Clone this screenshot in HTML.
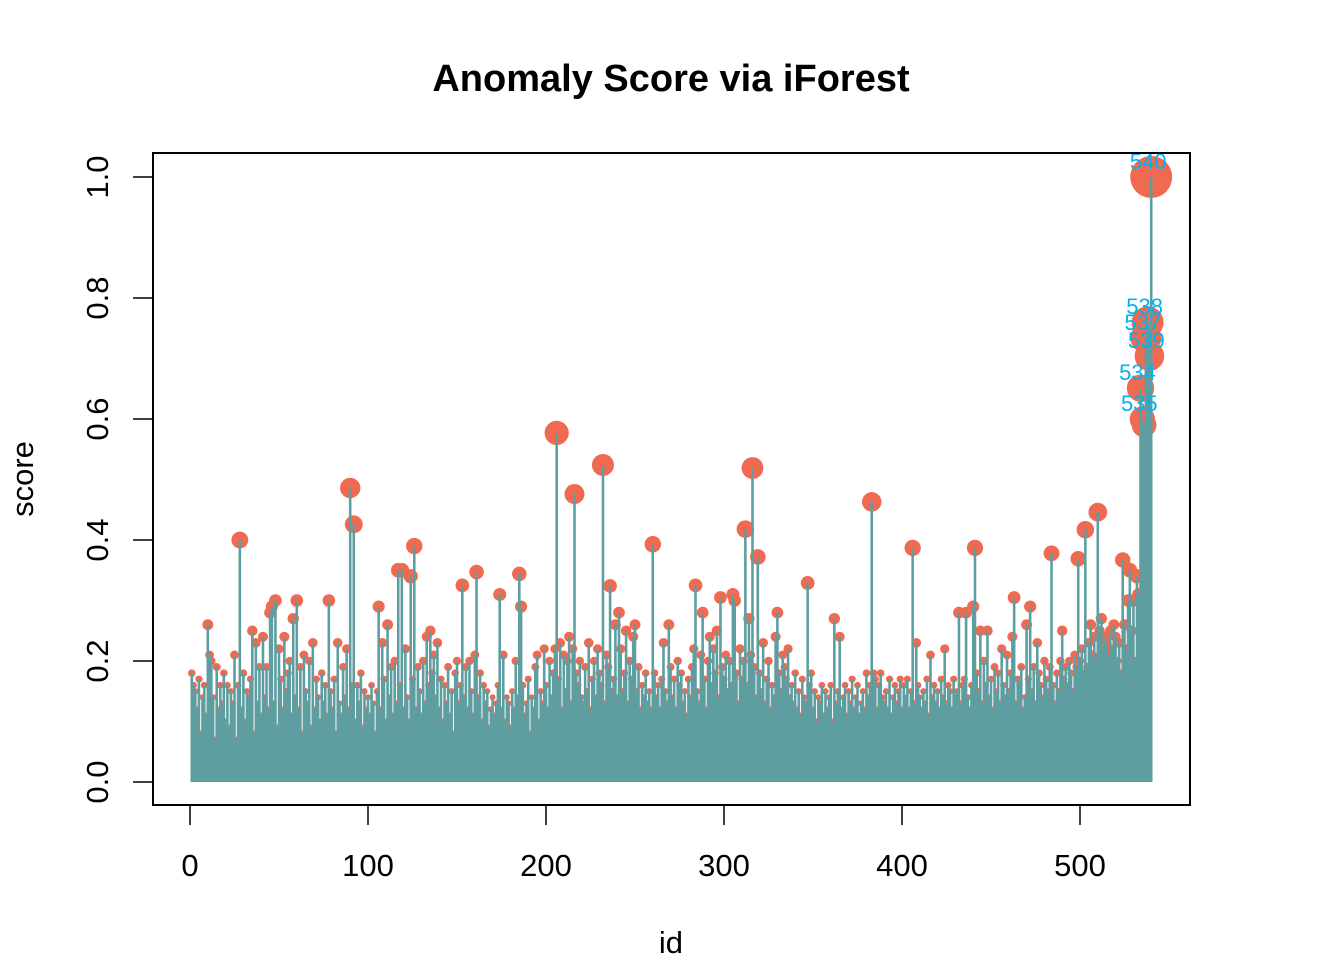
<!DOCTYPE html>
<html><head><meta charset="utf-8"><style>
html,body{margin:0;padding:0;background:#fff;}
svg{display:block;font-family:"Liberation Sans",Arial,sans-serif;}
</style></head><body>
<svg id="chart" width="1344" height="960" viewBox="0 0 1344 960">
<text x="671" y="91" text-anchor="middle" font-size="38" font-weight="bold">Anomaly Score via iForest</text>
<g id="marks"></g>
<rect x="153" y="153" width="1037" height="652" fill="none" stroke="#000" stroke-width="2"/>
<g id="axes"></g>
<text x="671" y="953" text-anchor="middle" font-size="31">id</text>
<text x="33" y="479" text-anchor="middle" font-size="31" transform="rotate(-90 33 479)">score</text>
</svg>
<script>
const scores = [
.18,.16,.15,.12,.17,.08,.14,.16,.11,.26,.21,.20,.14,.07,.19,.12,.16,.13,.18,.10,
.16,.09,.15,.13,.21,.07,.16,.40,.12,.18,.10,.15,.14,.17,.25,.08,.23,.13,.19,.11,
.24,.14,.19,.12,.28,.29,.13,.30,.09,.22,.17,.12,.24,.15,.18,.20,.11,.27,.14,.30,
.12,.19,.08,.21,.15,.13,.20,.09,.23,.12,.17,.14,.10,.18,.13,.16,.11,.30,.15,.12,
.17,.08,.23,.13,.11,.19,.14,.22,.12,.486,.16,.426,.10,.16,.13,.18,.09,.15,.12,.14,
.11,.16,.13,.08,.15,.29,.12,.23,.17,.10,.26,.14,.19,.11,.20,.13,.35,.16,.35,.12,
.22,.14,.10,.34,.17,.39,.12,.19,.15,.11,.20,.13,.24,.16,.25,.18,.21,.14,.23,.12,
.17,.10,.16,.13,.19,.11,.15,.08,.18,.20,.13,.16,.325,.14,.19,.12,.20,.15,.11,.21,
.347,.14,.18,.10,.16,.13,.15,.09,.12,.14,.11,.13,.16,.31,.12,.21,.10,.14,.13,.09,
.15,.12,.20,.14,.344,.29,.16,.11,.13,.17,.08,.14,.12,.19,.21,.10,.15,.13,.22,.16,
.12,.20,.14,.18,.22,.577,.17,.23,.12,.21,.15,.20,.24,.13,.22,.476,.18,.16,.20,.14,
.13,.19,.15,.23,.12,.17,.20,.14,.22,.18,.16,.524,.13,.21,.19,.324,.15,.17,.26,.14,
.28,.22,.15,.18,.25,.13,.20,.17,.24,.26,.15,.19,.12,.16,.14,.18,.13,.15,.12,.393,
.18,.14,.16,.12,.17,.23,.15,.13,.26,.19,.14,.17,.12,.20,.16,.18,.13,.15,.11,.17,
.14,.19,.22,.325,.15,.13,.21,.28,.17,.12,.20,.24,.16,.22,.18,.25,.14,.305,.19,.17,
.21,.15,.20,.16,.31,.30,.18,.13,.22,.17,.20,.418,.16,.27,.21,.519,.19,.14,.372,.18,
.15,.23,.13,.17,.20,.12,.16,.14,.24,.28,.18,.15,.21,.19,.17,.22,.14,.16,.13,.18,
.12,.15,.11,.17,.14,.13,.329,.16,.18,.12,.15,.10,.14,.13,.16,.11,.15,.12,.14,.16,
.10,.27,.13,.15,.24,.12,.14,.16,.11,.15,.13,.17,.12,.14,.16,.11,.13,.15,.12,.18,
.14,.16,.463,.18,.17,.12,.16,.18,.14,.13,.15,.12,.17,.11,.14,.16,.13,.15,.17,.12,
.16,.14,.17,.12,.15,.387,.13,.23,.16,.14,.12,.15,.13,.17,.11,.21,.14,.16,.13,.15,
.12,.17,.14,.22,.13,.16,.15,.12,.17,.14,.15,.28,.13,.16,.17,.28,.14,.12,.16,.29,
.387,.18,.15,.25,.13,.20,.16,.25,.14,.17,.12,.19,.15,.18,.13,.22,.16,.14,.21,.15,
.18,.24,.305,.13,.17,.16,.19,.12,.14,.26,.17,.29,.15,.19,.13,.23,.18,.16,.14,.20,
.17,.15,.19,.378,.16,.13,.18,.15,.20,.25,.17,.19,.16,.20,.18,.15,.21,.19,.369,.20,
.22,.18,.417,.19,.23,.26,.21,.24,.20,.446,.25,.27,.22,.24,.23,.21,.25,.22,.26,.24,
.20,.23,.18,.367,.26,.22,.30,.35,.25,.30,.20,.34,.31,.651,.60,.59,.734,.76,.704,1.0
];
const labeledIds = [534, 535, 537, 538, 539, 540];
const xTicks = [0, 100, 200, 300, 400, 500];
const yTicks = [0.0, 0.2, 0.4, 0.6, 0.8, 1.0];
const yTickLabels = ["0.0", "0.2", "0.4", "0.6", "0.8", "1.0"];

const NS = "http://www.w3.org/2000/svg";
function xs(id){ return 190 + id * 1.78; }
function ys(v){ return 782 - v * 605; }
function mk(tag, attrs, parent){
  const e = document.createElementNS(NS, tag);
  for (const k in attrs) e.setAttribute(k, attrs[k]);
  parent.appendChild(e);
  return e;
}
const marks = document.getElementById("marks");
const pts = mk("g", {}, marks);


const stems = mk("g", {}, marks);


const labs = mk("g", {}, marks);



scores.forEach((s, i) => {
  const id = i + 1;
  const c = mk("circle", {cx: xs(id), cy: ys(s), r: Math.max(3, 21 * s), fill: "#EF6A51"}, pts);
  
  
});
scores.forEach((s, i) => {
  const id = i + 1;
  const l = mk("line", {x1: xs(id), x2: xs(id), y1: ys(0), y2: ys(s), stroke: "#5F9EA0", "stroke-width": 2.6}, stems);
  
  
});
labeledIds.forEach(id => {
  const s = scores[id - 1];
  const t = mk("text", {x: xs(id) - 3, y: ys(s) - 8, "text-anchor": "middle", "font-size": "22", fill: "#00B2EE"}, labs);
  t.textContent = String(id);
  
  
});

const axes = document.getElementById("axes");
const xa = mk("g", {}, axes);


mk("line", {x1: xs(xTicks[0]), x2: xs(xTicks[xTicks.length-1]), y1: 805, y2: 805, stroke: "#000", "stroke-width": 1.5}, xa);
xTicks.forEach(v => {
  mk("line", {x1: xs(v), x2: xs(v), y1: 805, y2: 825, stroke: "#000", "stroke-width": 1.5}, xa);
  const t = mk("text", {x: xs(v), y: 876, "text-anchor": "middle", "font-size": "31"}, xa);
  t.textContent = String(v);
  
  
});
const ya = mk("g", {}, axes);


mk("line", {x1: 153, x2: 153, y1: ys(yTicks[0]), y2: ys(yTicks[yTicks.length-1]), stroke: "#000", "stroke-width": 1.5}, ya);
yTicks.forEach((v, i) => {
  const y = ys(v);
  mk("line", {x1: 133, x2: 153, y1: y, y2: y, stroke: "#000", "stroke-width": 1.5}, ya);
  const t = mk("text", {x: 108, y: y, "text-anchor": "middle", "font-size": "31", transform: "rotate(-90 108 " + y + ")"}, ya);
  t.textContent = yTickLabels[i];
  
  
});
</script>
</body></html>
